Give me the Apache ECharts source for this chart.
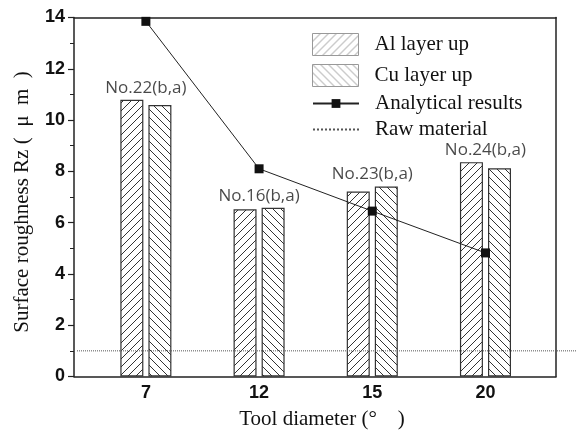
<!DOCTYPE html>
<html>
<head>
<meta charset="utf-8">
<script src="https://cdn.jsdelivr.net/npm/echarts@6/dist/echarts.min.js"></script>
<style>
  html, body { margin: 0; padding: 0; background: #fff; }
  #chart { width: 576px; height: 431px; }
</style>
</head>
<body>
<div id="chart"></div>
<script>
// Tool diameter categories and measured surface roughness Rz (μm)
const categories = ['7', '12', '15', '20'];
const alLayerUp = [10.79, 6.52, 7.21, 8.36];
const cuLayerUp = [10.59, 6.58, 7.41, 8.12];
const analyticalResults = [13.85, 8.1, 6.45, 4.82];
const rawMaterial = 1.0;
const sampleLabels = ['No.22(b,a)', 'No.16(b,a)', 'No.23(b,a)', 'No.24(b,a)'];

const SERIF = '"Liberation Serif", "Times New Roman", serif';
const SANS = '"Liberation Sans", Arial, sans-serif';

// Diagonal hatch fill: dir > 0 draws "/", otherwise "\"
function hatch(dir, color) {
  const s = 8;
  const c = document.createElement('canvas');
  c.width = s; c.height = s;
  const g = c.getContext('2d');
  g.fillStyle = '#fff';
  g.fillRect(0, 0, s, s);
  g.strokeStyle = color;
  g.lineWidth = 1;
  g.beginPath();
  if (dir > 0) {
    g.moveTo(-1, s + 1); g.lineTo(s + 1, -1);
    g.moveTo(-1, 1); g.lineTo(1, -1);
    g.moveTo(s - 1, s + 1); g.lineTo(s + 1, s - 1);
  } else {
    g.moveTo(-1, -1); g.lineTo(s + 1, s + 1);
    g.moveTo(s - 1, -1); g.lineTo(s + 1, 1);
    g.moveTo(-1, s - 1); g.lineTo(1, s + 1);
  }
  g.stroke();
  return { image: c, repeat: 'repeat' };
}

const pos = categories.map((c, i) => i + 1);
const xMin = 0.365, xMax = 4.623;

const legendText = { fontFamily: SERIF, fontSize: 21, color: '#111', padding: [0, 0, 0, 11] };

const chart = echarts.init(document.getElementById('chart'), null, { renderer: 'canvas' });
chart.setOption({
  animation: false,
  backgroundColor: '#fff',
  grid: [
    { left: 74, right: 20, top: 17.5, bottom: 54.5, outerBoundsMode: 'none', containLabel: false },
    { left: 77, right: 0, top: 17.5, bottom: 54.5, outerBoundsMode: 'none', containLabel: false }
  ],
  legend: [
    {
      data: [
        { name: 'Al layer up', icon: 'rect', itemStyle: { color: hatch(1, '#999'), borderColor: '#999', borderWidth: 1 } },
        { name: 'Cu layer up', icon: 'rect', itemStyle: { color: hatch(-1, '#999'), borderColor: '#999', borderWidth: 1 } }
      ],
      orient: 'vertical', left: 312, top: 33, padding: 0,
      itemWidth: 46, itemHeight: 22, itemGap: 8,
      selectedMode: false,
      textStyle: legendText
    },
    {
      data: ['Analytical results', 'Raw material'],
      orient: 'vertical', left: 312, top: 93, padding: 0,
      itemWidth: 46, itemHeight: 11, itemGap: 5,
      selectedMode: false,
      textStyle: legendText
    }
  ],
  xAxis: [
    {
      type: 'value', gridIndex: 0, min: xMin, max: xMax,
      axisLine: { show: true, onZero: false, lineStyle: { color: '#222', width: 1.5 } },
      axisTick: { show: false },
      splitLine: { show: false },
      axisLabel: {
        customValues: pos,
        formatter: v => categories[Math.round(v) - 1],
        fontFamily: SANS, fontWeight: 'bold', fontSize: 18, color: '#111', margin: 8
      },
      name: 'Tool diameter (°    )', nameLocation: 'middle', nameGap: 32,
      nameTextStyle: { fontFamily: SERIF, fontSize: 21, color: '#111', padding: [0, 0, 0, 14] }
    },
    {
      type: 'value', gridIndex: 0, position: 'top', min: xMin, max: xMax,
      axisLine: { show: true, onZero: false, lineStyle: { color: '#222', width: 1.5 } },
      axisTick: { show: false }, axisLabel: { show: false }, splitLine: { show: false }
    },
    { type: 'value', gridIndex: 1, min: 0, max: 1, show: false }
  ],
  yAxis: [
    {
      type: 'value', gridIndex: 0, min: 0, max: 14, interval: 2,
      axisLine: { show: true, lineStyle: { color: '#222', width: 1.5 } },
      axisTick: { show: true, length: 6, lineStyle: { color: '#222', width: 1.2 } },
      minorTick: { show: true, splitNumber: 2, length: 4, lineStyle: { color: '#222', width: 1 } },
      splitLine: { show: false },
      axisLabel: { fontFamily: SANS, fontWeight: 'bold', fontSize: 18, color: '#111', margin: 9 },
      name: 'Surface roughness Rz (  μ  m  )', nameLocation: 'middle', nameGap: 41,
      nameTextStyle: { fontFamily: SERIF, fontSize: 21, color: '#111', padding: [0, 10, 0, 0] }
    },
    {
      type: 'value', gridIndex: 0, position: 'right', min: 0, max: 14,
      axisLine: { show: true, lineStyle: { color: '#222', width: 1.5 } },
      axisTick: { show: false }, axisLabel: { show: false }, splitLine: { show: false }
    },
    { type: 'value', gridIndex: 1, min: 0, max: 14, show: false }
  ],
  series: [
    {
      name: 'Al layer up', type: 'bar', xAxisIndex: 0, yAxisIndex: 0,
      data: pos.map((x, i) => [x, alLayerUp[i]]),
      barWidth: 23, barGap: '22%',
      itemStyle: { color: hatch(1, '#333'), borderColor: '#333', borderWidth: 1.2 }
    },
    {
      name: 'Cu layer up', type: 'bar', xAxisIndex: 0, yAxisIndex: 0,
      data: pos.map((x, i) => [x, cuLayerUp[i]]),
      barWidth: 23, barGap: '22%',
      itemStyle: { color: hatch(-1, '#333'), borderColor: '#333', borderWidth: 1.2 }
    },
    {
      name: 'Analytical results', type: 'line', xAxisIndex: 0, yAxisIndex: 0,
      data: pos.map((x, i) => [x, analyticalResults[i]]),
      symbol: 'rect', symbolSize: 9, z: 5,
      itemStyle: { color: '#111' },
      lineStyle: { color: '#222', width: 1 }
    },
    {
      name: 'samples', type: 'scatter', xAxisIndex: 0, yAxisIndex: 0,
      data: pos.map((x, i) => [x, Math.max(alLayerUp[i], cuLayerUp[i])]),
      symbolSize: 1, itemStyle: { color: 'transparent' }, silent: true,
      label: {
        show: true, position: 'top', distance: 3,
        formatter: p => sampleLabels[p.dataIndex],
        fontFamily: '"Open Sans", sans-serif', fontSize: 17, color: '#1a1a1a'
      }
    },
    {
      name: 'Raw material', type: 'line', xAxisIndex: 2, yAxisIndex: 2,
      data: [[0, rawMaterial], [1, rawMaterial]],
      symbol: 'none', itemStyle: { color: 'transparent' },
      lineStyle: { color: '#555', width: 1, type: 'dotted' }
    }
  ]
});
</script>
</body>
</html>
